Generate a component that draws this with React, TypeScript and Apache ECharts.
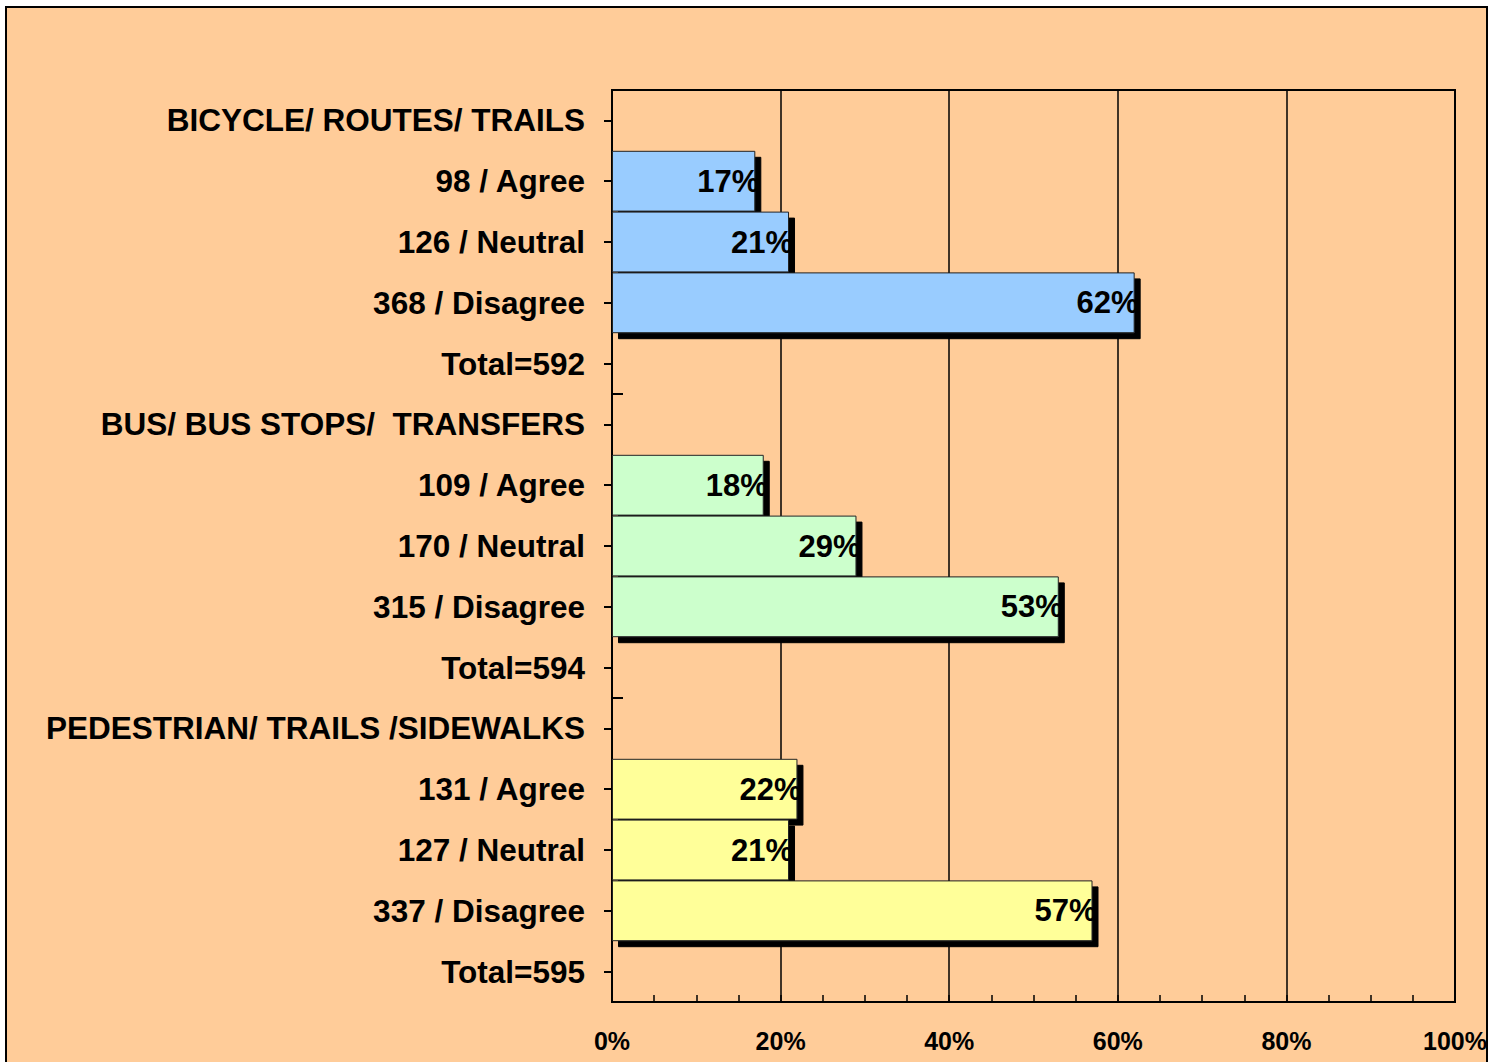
import React, { useEffect, useRef } from "react";
import * as echarts from "echarts";

const categories = [
  "BICYCLE/ ROUTES/ TRAILS",
  "98 / Agree",
  "126 / Neutral",
  "368 / Disagree",
  "Total=592",
  "BUS/ BUS STOPS/  TRANSFERS",
  "109 / Agree",
  "170 / Neutral",
  "315 / Disagree",
  "Total=594",
  "PEDESTRIAN/ TRAILS /SIDEWALKS",
  "131 / Agree",
  "127 / Neutral",
  "337 / Disagree",
  "Total=595",
];

const percentValues: (number | null)[] = [
  null, 17, 21, 62, null,
  null, 18, 29, 53, null,
  null, 22, 21, 57, null,
];

const groupColors = ["#99CCFF", "#CCFFCC", "#FFFF99"];
const xTicks = [0, 20, 40, 60, 80, 100];

const FONT = "'Liberation Sans', Arial, sans-serif";

export default function App() {
  const ref = useRef<HTMLDivElement>(null);
  useEffect(() => {
    if (!ref.current) return;
    const chart = echarts.init(ref.current, null, { renderer: "svg" });
    const data = percentValues.map((v, i) =>
      v === null
        ? "-"
        : { value: v, itemStyle: { color: groupColors[Math.floor(i / 5)] } }
    );
    chart.setOption({
      animation: false,
      backgroundColor: "#ffffff",
      graphic: [
        {
          type: "rect",
          z: -10,
          silent: true,
          shape: { x: 6, y: 7, width: 1481, height: 1070 },
          style: { fill: "#FFCC99", stroke: "#000", lineWidth: 2 },
        },
      ],
      grid: {
        left: 612,
        top: 90,
        width: 843,
        height: 912,
        show: true,
        borderColor: "#000",
        borderWidth: 2,
        backgroundColor: "transparent",
      },
      xAxis: {
        type: "value",
        min: xTicks[0],
        max: xTicks[xTicks.length - 1],
        interval: 20,
        axisLine: { show: true, lineStyle: { color: "#000", width: 2 } },
        axisTick: { show: true, inside: true, length: 7, lineStyle: { color: "#000", width: 1.5 } },
        minorTick: { show: true, splitNumber: 4, length: 7, lineStyle: { color: "#000", width: 1.5 } },
        splitLine: { show: true, lineStyle: { color: "#000", width: 1.5 } },
        axisLabel: {
          formatter: "{value}%",
          fontSize: 25,
          fontWeight: "bold",
          fontFamily: FONT,
          color: "#000",
          margin: 26,
        },
      },
      yAxis: [
        {
          type: "category",
          data: categories,
          inverse: true,
          axisLine: { show: true, lineStyle: { color: "#000", width: 2 } },
          axisTick: { show: true, alignWithLabel: true, length: 8, lineStyle: { color: "#000", width: 2 } },
          axisLabel: {
            fontSize: 31.5,
            fontWeight: "bold",
            fontFamily: FONT,
            color: "#000",
            margin: 27,
            interval: 0,
          },
          splitLine: { show: false },
        },
        {
          type: "category",
          data: categories,
          inverse: true,
          position: "left",
          axisLine: { show: false },
          axisLabel: { show: false },
          splitLine: { show: false },
          axisTick: {
            show: true,
            inside: true,
            length: 11,
            alignWithLabel: false,
            interval: (i: number) => i === 5 || i === 10,
            lineStyle: { color: "#000", width: 2 },
          },
        },
      ],
      series: [
        {
          type: "bar",
          xAxisIndex: 0,
          yAxisIndex: 0,
          data,
          barWidth: "100%",
          barCategoryGap: "0%",
          itemStyle: {
            borderColor: "#222",
            borderWidth: 1,
            shadowColor: "#000",
            shadowBlur: 0,
            shadowOffsetX: 6,
            shadowOffsetY: 6,
          },
          label: {
            show: true,
            position: "insideRight",
            distance: 0,
            offset: [4, 0],
            formatter: "{c}%",
            fontSize: 31,
            fontWeight: "bold",
            fontFamily: FONT,
            color: "#000",
          },
        },
      ],
    });
    return () => chart.dispose();
  }, []);
  return (
    <div
      ref={ref}
      style={{ position: "absolute", left: 0, top: 0, width: 1502, height: 1062 }}
    />
  );
}
